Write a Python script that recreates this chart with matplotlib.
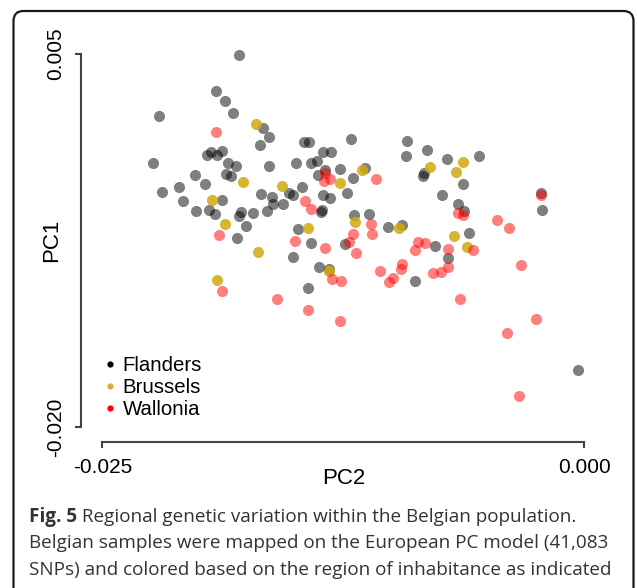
import numpy as np
import matplotlib
matplotlib.use("Agg")
import matplotlib.pyplot as plt
from matplotlib.lines import Line2D
from matplotlib.patches import FancyBboxPatch

# ---- data (PC values in units of 1e-3) ----
flanders_pc2 = [-17.93, -19.09, -18.62, -18.21, -22.06, -16.65, -16.37, -16.80, -22.35, -19.59,
                -19.35, -19.04, -18.79, -18.48, -18.05, -16.37, -14.93, -18.58, -18.34, -20.21,
                -19.66, -21.04, -21.90, -20.80, -18.79, -20.14, -19.48, -19.17, -17.81, -17.89,
                -17.17, -16.75, -16.22, -16.13, -16.47, -15.64, -15.30, -15.13, -14.64, -14.54,
                -14.29, -12.09, -9.21, -8.17, -9.26, -7.14, -13.57, -13.12, -14.16, -13.85,
                -12.67, -11.37, -11.98, -13.81, -13.46, -13.54, -13.19, -12.32, -8.35, -8.31,
                -7.37, -13.60, -13.64, -11.93, -11.15, -5.45, -6.28, -2.26, -2.18, -6.55,
                -6.22, -18.03, -17.55, -15.13, -14.85, -14.16, -12.41, -10.17, -9.47, -13.76,
                -13.23, -14.31, -8.77, -7.76, -7.09, -5.96, -0.34]
flanders_pc1 = [4.93, 2.50, 1.83, 1.06, 0.86, 0.04, -0.55, -1.07, -2.31, -1.77,
                -1.55, -1.77, -1.51, -2.29, -2.49, -2.51, -2.33, -3.05, -3.18, -3.12,
                -3.72, -3.90, -4.24, -4.81, -4.79, -5.48, -5.46, -5.73, -5.58, -5.87,
                -5.64, -4.34, -4.57, -5.06, -5.51, -5.06, -4.28, -4.46, -3.92, -0.86,
                -0.86, -0.70, -0.81, -1.44, -1.82, -2.02, -1.55, -1.55, -2.29, -2.16,
                -2.67, -2.60, -3.32, -3.12, -2.78, -4.41, -4.64, -4.30, -3.16, -2.96,
                -4.46, -5.46, -5.60, -5.75, -5.70, -1.82, -3.67, -4.28, -5.46, -5.03,
                -5.51, -7.32, -6.50, -8.59, -6.74, -7.68, -7.70, -6.58, -6.47, -9.27,
                -9.40, -10.65, -10.18, -7.86, -8.66, -6.99, -16.19]

brussels_pc2 = [-17.03, -17.69, -15.68, -19.33, -18.65, -16.92, -19.04, -11.53, -12.67,
                -8.00, -6.31, -6.65, -14.33, -11.91, -9.60, -13.23, -6.76, -6.10]
brussels_pc1 = [0.34, -3.55, -3.83, -4.76, -6.35, -8.25, -10.16, -2.78, -3.62,
                -2.56, -2.24, -2.93, -6.64, -6.27, -6.62, -9.52, -7.19, -7.92]

wallonia_pc2 = [-19.12, -13.47, -13.50, -13.19, -10.80, -14.47, -14.16, -2.25, -6.54, -6.31,
                -4.54, -3.89, -7.07, -5.76, -7.05, -7.43, -7.86, -3.27, -6.45, -2.51,
                -4.02, -3.37, -18.95, -18.79, -15.95, -15.03, -13.43, -11.05, -11.01, -12.01,
                -12.19, -11.84, -10.60, -9.46, -9.49, -9.94, -10.11, -13.09, -12.60, -8.63,
                -8.25, -8.77, -14.33, -12.67]
wallonia_pc1 = [-0.25, -2.95, -3.48, -3.38, -3.36, -4.86, -5.35, -4.46, -5.64, -5.80,
                -6.10, -6.64, -8.05, -8.15, -9.29, -9.62, -9.67, -9.12, -11.41, -12.75,
                -13.68, -17.87, -7.12, -10.90, -11.40, -7.52, -7.96, -6.35, -7.03, -7.03,
                -7.59, -8.33, -9.51, -9.04, -9.41, -9.98, -10.27, -10.09, -10.20, -7.61,
                -7.66, -8.13, -12.12, -12.89]

regions = ["Flanders", "Brussels", "Wallonia"]
x_ticks = [-0.025, 0.000]
x_tick_labels = ["-0.025", "0.000"]
y_ticks = [-0.020, 0.005]
y_tick_labels = ["-0.020", "0.005"]

caption_bold = "Fig. 5"
caption_lines = [" Regional genetic variation within the Belgian population.",
                 "Belgian samples were mapped on the European PC model (41,083",
                 "SNPs) and colored based on the region of inhabitance as indicated"]

# ---- styling ----
plt.rcParams['font.family'] = ['Liberation Sans', 'DejaVu Sans']
W, H = 637, 588
fig = plt.figure(figsize=(W / 100, H / 100), dpi=100)
fig.patch.set_facecolor('white')

ax_l, ax_r, ax_t, ax_b = 80.7, 603.6, 39.1, 442.3
ax = fig.add_axes([ax_l / W, (H - ax_b) / H, (ax_r - ax_l) / W, (ax_b - ax_t) / H])

point_colors = ["#000000", "#D1A90F", "#FF0000"]
point_alphas = [0.5, 0.85, 0.5]
legend_colors = ["#000000", "#D4B02E", "#FF0000"]
series = [(flanders_pc2, flanders_pc1), (brussels_pc2, brussels_pc1), (wallonia_pc2, wallonia_pc1)]
for (xs, ys), c, a in zip(series, point_colors, point_alphas):
    ax.scatter(np.array(xs) * 1e-3, np.array(ys) * 1e-3, s=64, color=c, alpha=a,
               linewidths=0, zorder=3)

ax.set_xlim(-0.02612, 0.001)
ax.set_ylim(-0.021, 0.006)
for s in ["top", "right"]:
    ax.spines[s].set_visible(False)
axis_col = "#444444"
ax.spines["left"].set_bounds(y_ticks[0], y_ticks[-1])
ax.spines["bottom"].set_bounds(x_ticks[0], x_ticks[-1])
for s in ["left", "bottom"]:
    ax.spines[s].set_color(axis_col)
    ax.spines[s].set_linewidth(1.5)
ax.set_xticks(x_ticks)
ax.set_xticklabels(x_tick_labels)
ax.set_yticks(y_ticks)
ax.set_yticklabels(y_tick_labels, rotation=90, va="center")
ax.tick_params(axis="both", length=4.5, width=1.5, color=axis_col, labelsize=15, pad=7)
ax.set_xlabel("PC2", fontsize=16)
ax.set_ylabel("PC1", fontsize=16)
ax.xaxis.label.set_va("center")
ax.yaxis.label.set_va("center")
ax.xaxis.set_label_coords((343.5 - ax_l) / (ax_r - ax_l), -(478 - ax_b) / (ax_b - ax_t))
ax.yaxis.set_label_coords(-(ax_l - 52) / (ax_r - ax_l), 0.5)

handles = [Line2D([], [], marker="o", linestyle="none", markersize=4.5, color=c,
                  markeredgewidth=0) for c in legend_colors]
ax.legend(handles, regions, loc="upper left", bbox_to_anchor=(0.045, 0.214),
          frameon=False, fontsize=14.7, borderpad=0, handlelength=0.55, handletextpad=0.35,
          labelspacing=0.15, borderaxespad=0)

# ---- caption ----
cap_font = "Open Sans"
cap_size = 13.55
cap_color = "#333333"
cap_x = 29 / W
line_y = [516.7, 543.3, 570.0]
tb = fig.text(cap_x, 1 - line_y[0] / H, caption_bold, fontsize=cap_size, fontweight="bold",
              family=cap_font, color=cap_color, va="center", ha="left")
renderer = fig.canvas.get_renderer()
bb = tb.get_window_extent(renderer=renderer)
fig.text(bb.x1 / W, 1 - line_y[0] / H, caption_lines[0], fontsize=cap_size, family=cap_font,
         color=cap_color, va="center", ha="left")
for yy, txt in zip(line_y[1:], caption_lines[1:]):
    fig.text(cap_x, 1 - yy / H, txt, fontsize=cap_size, family=cap_font, color=cap_color,
             va="center", ha="left")

# ---- rounded outer border ----
border = FancyBboxPatch((13.5, -12), 620, 588 - 11 + 12, boxstyle="round,pad=0,rounding_size=10",
                        transform=None, facecolor="none", edgecolor="#1a1a1a", linewidth=1.6)
fig.patches.append(border)

fig.savefig("out.png", dpi=100)
